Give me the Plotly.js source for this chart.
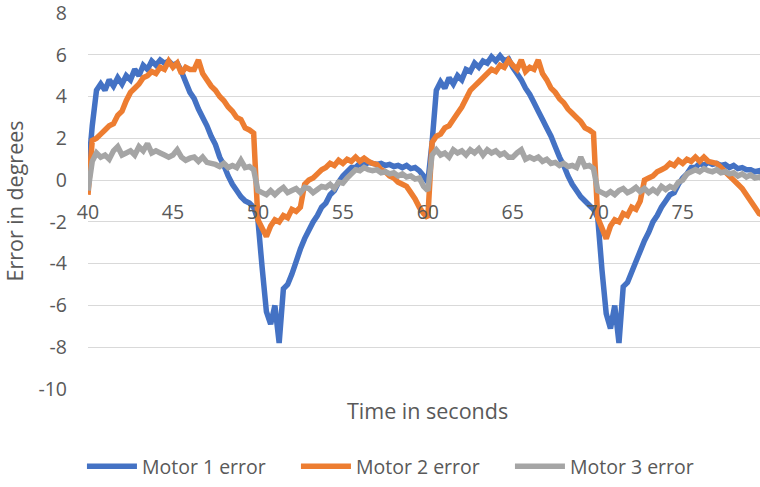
<!DOCTYPE html>
<html>
<head>
<meta charset="utf-8">
<script src="https://cdn.plot.ly/plotly-3.0.1.min.js"></script>
<style>html,body{margin:0;padding:0;background:#fff;}#chart{width:760px;height:487px;}</style>
</head>
<body>
<div id="chart"></div>
<script>
var time = [
40.00,40.25,40.50,40.75,41.00,41.25,41.50,41.75,42.00,42.25,42.50,42.75,43.00,43.25,43.50,43.75,
44.00,44.25,44.50,44.75,45.00,45.25,45.50,45.75,46.00,46.25,46.50,46.75,47.00,47.25,47.50,47.75,
48.00,48.25,48.50,48.75,49.00,49.25,49.50,49.75,50.00,50.25,50.50,50.75,51.00,51.25,51.50,51.75,
52.00,52.25,52.50,52.75,53.00,53.25,53.50,53.75,54.00,54.25,54.50,54.75,55.00,55.25,55.50,55.75,
56.00,56.25,56.50,56.75,57.00,57.25,57.50,57.75,58.00,58.25,58.50,58.75,59.00,59.25,59.50,59.75,
60.00,60.25,60.50,60.75,61.00,61.25,61.50,61.75,62.00,62.25,62.50,62.75,63.00,63.25,63.50,63.75,
64.00,64.25,64.50,64.75,65.00,65.25,65.50,65.75,66.00,66.25,66.50,66.75,67.00,67.25,67.50,67.75,
68.00,68.25,68.50,68.75,69.00,69.25,69.50,69.75,70.00,70.25,70.50,70.75,71.00,71.25,71.50,71.75,
72.00,72.25,72.50,72.75,73.00,73.25,73.50,73.75,74.00,74.25,74.50,74.75,75.00,75.25,75.50,75.75,
76.00,76.25,76.50,76.75,77.00,77.25,77.50,77.75,78.00,78.25,78.50,78.75,79.00,79.25,79.50,79.75
];

var motor1Error = [
0.3,2.6,4.3,4.6,4.3,4.8,4.5,4.9,4.6,5.0,4.8,5.3,5.0,5.5,5.3,5.7,
5.5,5.75,5.6,5.7,5.5,5.6,5.2,4.7,4.2,3.9,3.4,3.0,2.6,2.1,1.7,1.1,
0.7,0.2,-0.2,-0.5,-0.8,-1.0,-1.1,-1.3,-1.9,-4.2,-6.3,-6.9,-6.0,-7.8,-5.2,-5.0,
-4.5,-3.9,-3.3,-2.8,-2.4,-2.0,-1.7,-1.3,-1.1,-0.7,-0.5,-0.1,0.2,0.4,0.6,0.6,
0.8,0.7,0.85,0.8,0.75,0.8,0.7,0.75,0.65,0.7,0.6,0.7,0.55,0.6,0.45,0.2,
-0.1,1.8,4.3,4.7,4.4,4.9,4.6,5.0,4.8,5.3,5.2,5.6,5.4,5.7,5.6,5.9,
5.7,5.95,5.7,5.8,5.4,5.1,4.8,4.4,4.1,3.7,3.3,2.9,2.5,2.1,1.6,1.1,
0.7,0.2,-0.2,-0.5,-0.8,-1.0,-1.2,-1.4,-1.8,-4.3,-6.4,-7.1,-6.0,-7.8,-5.1,-4.9,
-4.4,-3.9,-3.4,-2.9,-2.5,-2.0,-1.7,-1.3,-1.0,-0.7,-0.6,-0.2,0.1,0.3,0.6,0.6,
0.8,0.7,0.85,0.75,0.8,0.7,0.75,0.6,0.7,0.55,0.6,0.5,0.5,0.4,0.45,0.3
];

var motor2Error = [
-0.7,1.9,2.0,2.2,2.4,2.6,2.7,3.1,3.3,3.8,4.2,4.4,4.6,4.9,5.0,5.2,
5.1,5.4,5.3,5.7,5.4,5.6,5.1,5.4,5.3,5.3,5.75,5.1,4.8,4.5,4.3,4.0,
3.8,3.5,3.3,3.0,2.9,2.5,2.4,2.25,-1.9,-2.3,-2.7,-2.2,-1.9,-2.0,-1.7,-1.8,
-1.4,-1.5,-1.3,-0.2,0.0,0.1,0.3,0.5,0.6,0.8,0.7,0.95,0.8,1.0,0.9,1.1,
0.9,1.05,0.9,0.8,0.75,0.5,0.4,0.2,0.1,-0.1,-0.2,-0.3,-0.6,-0.9,-1.3,-1.6,
-1.8,1.8,2.1,2.2,2.5,2.6,2.9,3.2,3.5,3.9,4.3,4.5,4.7,4.9,5.1,5.3,
5.2,5.5,5.4,5.75,5.5,5.3,5.75,5.2,5.4,5.3,5.75,5.1,4.8,4.4,4.2,3.9,
3.7,3.4,3.2,3.0,2.8,2.5,2.4,2.25,-1.8,-2.3,-2.8,-2.2,-1.9,-2.0,-1.6,-1.7,
-1.3,-1.4,-1.0,0.0,0.1,0.2,0.4,0.5,0.6,0.8,0.7,0.95,0.8,1.0,0.9,1.1,
0.9,1.1,0.9,0.85,0.8,0.6,0.4,0.2,0.0,-0.2,-0.4,-0.7,-1.0,-1.3,-1.6,-1.7
];

var motor3Error = [
-0.5,0.9,1.3,1.1,1.2,1.0,1.4,1.6,1.2,1.3,1.4,1.2,1.6,1.4,1.75,1.3,
1.4,1.3,1.2,1.1,1.2,1.45,1.1,0.95,1.05,1.1,0.9,1.1,0.85,0.8,0.75,0.65,
0.8,0.6,0.7,0.6,0.95,0.6,0.65,0.5,-0.5,-0.6,-0.7,-0.5,-0.7,-0.5,-0.35,-0.6,
-0.5,-0.4,-0.6,-0.35,-0.4,-0.6,-0.45,-0.3,-0.35,-0.2,-0.4,-0.1,-0.15,0.1,0.3,0.5,
0.45,0.6,0.5,0.45,0.5,0.35,0.4,0.3,0.35,0.2,0.3,0.15,0.2,0.05,0.1,-0.3,
-0.5,1.2,1.45,1.2,1.3,1.1,1.45,1.3,1.4,1.2,1.45,1.3,1.5,1.2,1.45,1.3,
1.4,1.2,1.3,1.1,1.1,1.3,1.45,1.0,1.1,1.0,1.1,0.9,1.0,0.8,0.85,0.7,
0.8,0.65,0.7,0.6,1.1,0.65,0.7,0.55,-0.5,-0.6,-0.7,-0.55,-0.7,-0.5,-0.4,-0.6,
-0.5,-0.35,-0.55,-0.4,-0.6,-0.45,-0.6,-0.3,-0.45,-0.3,-0.4,-0.1,0.0,0.3,0.4,0.5,
0.4,0.55,0.45,0.4,0.5,0.35,0.4,0.3,0.35,0.2,0.3,0.15,0.25,0.1,0.15,0.05
];

var seriesNames = ['Motor 1 error', 'Motor 2 error', 'Motor 3 error'];
var seriesColors = ['#4472C4', '#ED7D31', '#A5A5A5'];
var xTicks = [40, 45, 50, 55, 60, 65, 70, 75];
var yTicks = [-10, -8, -6, -4, -2, 0, 2, 4, 6, 8];

var fontFam = 'Open Sans, Noto Sans, sans-serif';
var txtColor = '#595959';
var yMin = -10, yMax = 8;

var traces = [motor1Error, motor2Error, motor3Error].map(function (vals, i) {
  return {
    type: 'scatter', mode: 'lines', x: time, y: vals, name: seriesNames[i],
    line: {color: seriesColors[i], width: 5.5, simplify: false},
    hoverinfo: 'skip'
  };
});

var layout = {
  width: 760, height: 487,
  margin: {l: 88, r: 0, t: 13, b: 98, pad: 0, autoexpand: false},
  paper_bgcolor: '#ffffff', plot_bgcolor: '#ffffff',
  font: {family: fontFam, color: txtColor, size: 19},
  showlegend: true,
  legend: {
    orientation: 'h', x: -0.009, xanchor: 'left', y: -0.258, yanchor: 'bottom',
    font: {family: fontFam, size: 19.5, color: txtColor},
    itemwidth: 50, tracegroupgap: 0,
    entrywidth: 149, entrywidthmode: 'pixels'
  },
  xaxis: {
    range: [40, 79.55], tickvals: xTicks, ticktext: xTicks.map(String),
    showgrid: false, zeroline: false, showline: false, ticks: '',
    anchor: 'free', position: (0 - yMin) / (yMax - yMin),
    ticklabelstandoff: 18, automargin: false, ticklabeloverflow: 'allow',
    tickfont: {family: fontFam, size: 19.5, color: txtColor}
  },
  yaxis: {
    range: [yMin, yMax], tickvals: yTicks, ticktext: yTicks.map(String),
    showgrid: true, gridcolor: '#D9D9D9', gridwidth: 1,
    zeroline: false, showline: false, ticks: '',
    ticklabelstandoff: 20, automargin: false, ticklabeloverflow: 'allow',
    tickfont: {family: fontFam, size: 19.5, color: txtColor},
    title: {text: 'Error in degrees', font: {family: fontFam, size: 21.5, color: txtColor}, standoff: 8}
  },
  annotations: [{
    text: 'Time in seconds', xref: 'paper', yref: 'paper', x: 0.505, y: -0.057,
    xanchor: 'center', yanchor: 'middle', showarrow: false,
    font: {family: fontFam, size: 21.5, color: txtColor}
  }]
};

Plotly.newPlot('chart', traces, layout, {staticPlot: true, displayModeBar: false});
</script>
</body>
</html>
